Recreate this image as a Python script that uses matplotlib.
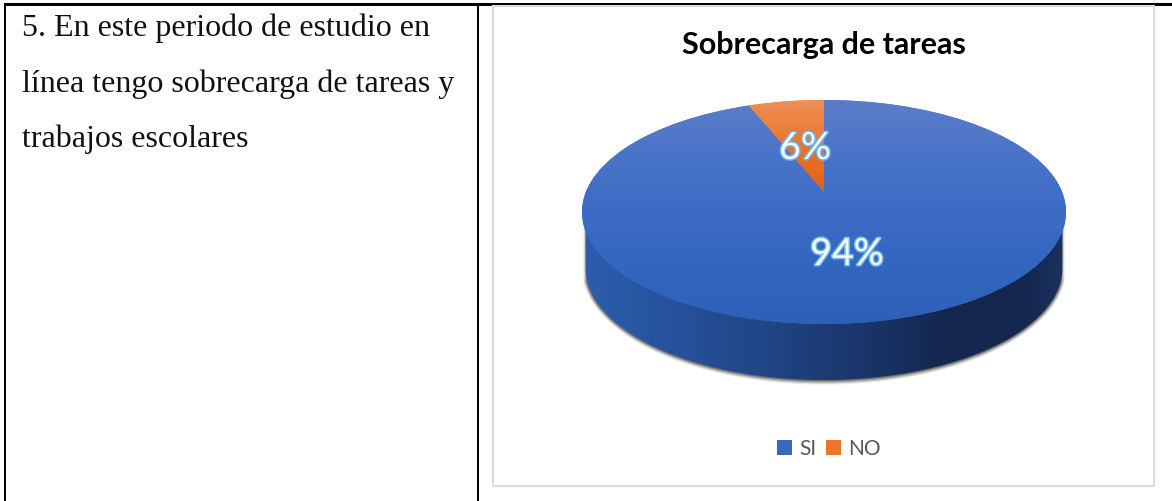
import numpy as np
import matplotlib
matplotlib.use("Agg")
import matplotlib.pyplot as plt
from matplotlib.colors import LinearSegmentedColormap
from matplotlib.patches import Patch, PathPatch, Rectangle
from matplotlib.path import Path
from matplotlib.transforms import Transform
import matplotlib.patheffects as pe

categories = ["SI", "NO"]
values = [94, 6]
title = "Sobrecarga de tareas"
question_lines = ["5. En este periodo de estudio en",
                  "línea tengo sobrecarga de tareas y",
                  "trabajos escolares"]

W, H = 1172, 501
fig = plt.figure(figsize=(W / 100, H / 100), dpi=100, facecolor="white")

# Page-space axes for the table and the chart frame
bg = fig.add_axes([0, 0, 1, 1])
bg.set_xlim(0, W)
bg.set_ylim(H, 0)
bg.axis("off")
for (x, y, w, h) in [(4, 3, 1168, 2.5), (4, 3, 2, 498), (477, 3, 2, 498)]:
    bg.add_patch(Rectangle((x, y), w, h, fc="black", ec="none"))
bg.add_patch(Rectangle((493, 6), 661, 480, fc="white", ec="#dcdcdc", lw=1.5))
for line, y in zip(question_lines, [36, 92, 147]):
    bg.text(22, y, line, family="Liberation Serif", fontsize=23, color="#111111",
            ha="left", va="baseline")
bg.text(824, 45, title, family="Lato", fontweight="bold", fontsize=22,
        color="black", ha="center", va="center")

# Pie axes: the unit disc spans the top face of the pie
CX, CY, A, B = 824, 212, 242, 112
y_top, y_bot = 90, 410
ax = fig.add_axes([(CX - A) / W, 1 - y_bot / H, 2 * A / W, (y_bot - y_top) / H])
ax.patch.set_alpha(0)

TILT = 0.18
DEPTH = 0.5


class DiscTilt(Transform):
    """Projective map of the unit disc onto itself: moves the pie centre back."""
    input_dims = 2
    output_dims = 2

    def transform_non_affine(self, v):
        v = np.asarray(v, float)
        d = 1 + TILT * v[:, 1]
        return np.column_stack((v[:, 0] * np.sqrt(1 - TILT ** 2) / d,
                                (v[:, 1] + TILT) / d))


wedges, _, autotexts = ax.pie(values, startangle=90, counterclock=False,
                              colors=["#3f6cc4", "#ea7a33"],
                              autopct="%.0f%%", pctdistance=0.5)
ax.set_aspect("auto")
ax.set_xlim(-1, 1)
ax.set_ylim((CY - y_bot) / B, (CY - y_top) / B)
ax.axis("off")

t = np.linspace(np.pi, 2 * np.pi, 200)
# Soft drop shadow round the side wall
ts = np.linspace(np.pi + 0.12, 2 * np.pi - 0.12, 200)
for grow, alpha in [(0.016, 0.12), (0.012, 0.2), (0.008, 0.3), (0.004, 0.45)]:
    xs = (0.985 + grow) * np.cos(ts)
    ys = (1 + grow * 2.6) * np.sin(ts) - DEPTH
    ax.fill(np.r_[xs, xs[-1], xs[0]], np.r_[ys, 0, 0], color="#3a3a3a", alpha=alpha, lw=0, zorder=0.5)

# Side wall with a horizontal gradient
side_cmap = LinearSegmentedColormap.from_list(
    "side", [(0, "#2c5eae"), (0.25, "#254e95"), (0.5, "#1d3c76"), (0.75, "#14274f"),
             (0.92, "#14274f"), (1, "#1b315f")])
xs = 0.985 * np.cos(t)
ys = np.sin(t) - DEPTH
side_path = Path(np.column_stack((np.r_[xs, xs[-1], xs[0], xs[0]], np.r_[ys, 0, 0, ys[0]])))
im = ax.imshow(np.linspace(0, 1, 256)[None, :], cmap=side_cmap, extent=(-1, 1, -2, 0),
               aspect="auto", zorder=0.8)
im.set_clip_path(PathPatch(side_path, transform=ax.transData))

# Top face with vertical gradients, clipped to the pie wedges
face_cmaps = [
    LinearSegmentedColormap.from_list("si", ["#5b7dc8", "#4a74c8", "#3d6cc6", "#3366bf", "#2d60b6"]),
    LinearSegmentedColormap.from_list("no", ["#ef8f58", "#e9732c", "#e36012"]),
]
tilt = DiscTilt()
for wedge, cm_, extent in zip(wedges, face_cmaps, [(-1, 1, -1, 1), (-1, 1, 0.15, 1)]):
    wedge.set_transform(tilt + ax.transData)
    wedge.set_zorder(1)
    im = ax.imshow(np.linspace(0, 1, 256)[:, None], cmap=cm_, extent=extent,
                   aspect="auto", zorder=1.5)
    im.set_clip_path(wedge)
ax.set_xlim(-1, 1)
ax.set_ylim((CY - y_bot) / B, (CY - y_top) / B)

# Value labels
for txt, (px, py) in zip(autotexts, [(847, 254), (805, 148)]):
    txt.set_position(((px - CX) / A, (CY - py) / B))
    txt.set(family="Lato", fontsize=27, color="#f6fbff", ha="center", va="center", zorder=3,
            path_effects=[pe.withStroke(linewidth=2.2, foreground="#6db4ea")])

# Legend
handles = [Patch(facecolor="#3a68c0", label=categories[0]),
           Patch(facecolor="#ee7427", label=categories[1])]
fig.legend(handles=handles, ncol=2, loc="center", bbox_to_anchor=(829 / W, 1 - 449 / H),
           frameon=False, prop={"family": "Lato", "size": 15}, labelcolor="#595959",
           handlelength=0.72, handleheight=0.72, handletextpad=0.35, columnspacing=0.47)

fig.savefig("out.png", dpi=100, facecolor="white")
